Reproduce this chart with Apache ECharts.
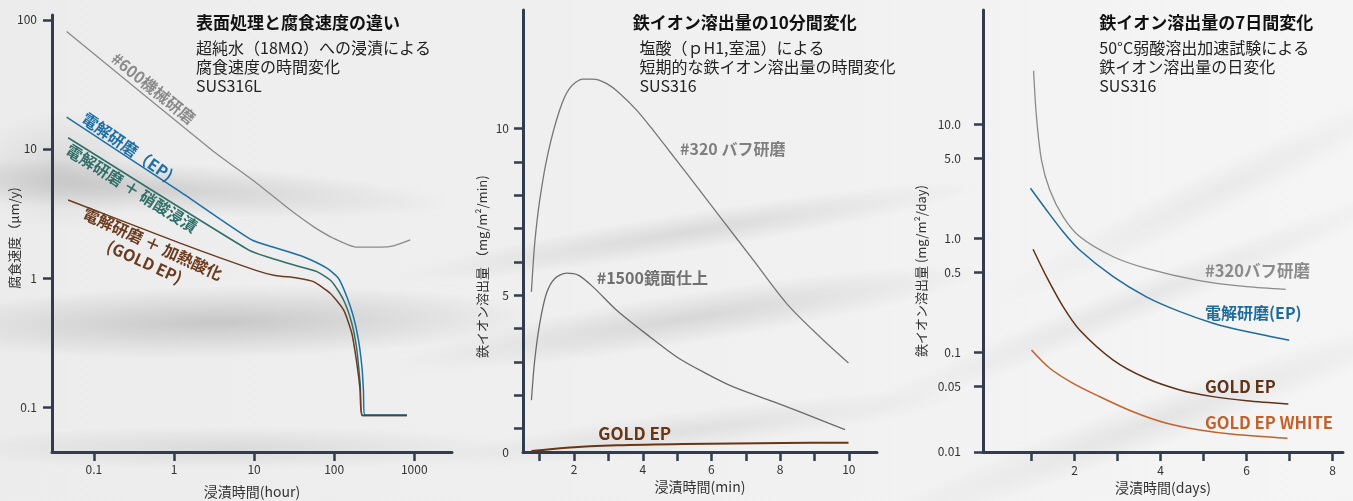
<!DOCTYPE html>
<html>
<head>
<meta charset="utf-8">
<script src="https://cdn.jsdelivr.net/npm/echarts@6/dist/echarts.min.js"></script>
<style>
  html, body { margin: 0; padding: 0; background: #efefef; }
  #chart { width: 1353px; height: 501px; }
</style>
</head>
<body>
<div id="chart"></div>
<script>
const FONT = '"Noto Sans CJK JP", "Noto Sans", sans-serif'
const AXIS = '#323c4e'

// --- panel 1: corrosion rate in ultrapure water (log / log) ---
const corrTicksX = [0.1, 1, 10, 100, 1000]
const corrTicksY = [0.1, 1, 10, 100]
const corrMech600 = [[0.0457, 81.2], [2.96, 9.82], [10.8, 5.42], [28.2, 3.37], [55.1, 2.5], [98, 2.03], [192, 1.73], [376, 1.73], [551, 1.77], [891, 1.97]]
const corrEp = [[0.0457, 17.6], [1.19, 4.67], [9.36, 1.97], [19.2, 1.7], [41.3, 1.46], [81, 1.19], [113, 0.995], [144, 0.716], [174, 0.501], [201, 0.331], [222, 0.205], [232, 0.135], [239, 0.0867], [811, 0.0867]]
const corrEpNitric = [[0.0477, 12.2], [8.49, 1.65], [14.4, 1.46], [37.6, 1.22], [60.8, 1.12], [93.6, 0.936], [131, 0.675], [166, 0.446], [192, 0.277], [211, 0.153], [228, 0.086], [811, 0.086]]
const corrGoldEp = [[0.0477, 4.02], [1.19, 1.86], [10.3, 1.15], [18.3, 1.045], [34.2, 1.0], [55.1, 0.936], [89.1, 0.761], [131, 0.565], [166, 0.373], [192, 0.218], [211, 0.135], [222, 0.086], [811, 0.086]]

// --- panel 2: iron ion release over 10 minutes ---
const minTicksX = [1, 2, 3, 4, 5, 6, 7, 8, 9, 10]
const minLabelsX = [2, 4, 6, 8, 10]
const minTicksY = [1, 2, 3, 4, 5, 6, 7, 8, 9, 10]
const minLabelsY = [0, 5, 10]
const minBuff320 = [[0.758, 5.1], [0.854, 6.55], [1.0, 7.85], [1.24, 9.25], [1.58, 10.55], [1.87, 11.2], [2.26, 11.48], [2.55, 11.48], [2.94, 11.35], [3.33, 11.05], [3.82, 10.55], [4.3, 9.95], [4.79, 9.3], [5.28, 8.65], [6.25, 7.35], [7.22, 6.05], [8.19, 4.75], [9.16, 3.75], [9.99, 2.97]]
const minMirror1500 = [[0.758, 1.85], [0.854, 3.05], [1.0, 4.15], [1.195, 5.05], [1.44, 5.5], [1.78, 5.66], [2.12, 5.6], [2.55, 5.25], [3.24, 4.55], [4.21, 3.75], [4.99, 3.15], [5.76, 2.7], [6.64, 2.25], [8.09, 1.7], [9.89, 0.97]]
const minGoldEp = [[0.758, 0.33], [1.78, 0.43], [3.24, 0.5], [5.18, 0.54], [8.09, 0.57], [9.99, 0.58]]

// --- panel 3: iron ion release over 7 days (log y) ---
const dayTicksX = [1, 2, 3, 4, 5, 6, 7, 8]
const dayLabelsX = [2, 4, 6, 8]
const dayTicksY = [10, 5, 1, 0.5, 0.1, 0.05]
const dayLabelsY = ['10.0', '5.0', '1.0', '0.5', '0.1', '0.05']
const dayBottomLabel = '0.01'
const dayBuff320 = [[1.05, 29.3], [1.116, 11.6], [1.233, 4.83], [1.426, 2.64], [1.735, 1.54], [2.12, 1.03], [2.9, 0.685], [3.67, 0.542], [4.84, 0.428], [6.0, 0.374], [6.91, 0.355]]
const dayEp = [[0.977, 2.73], [1.349, 1.76], [1.735, 1.136], [2.12, 0.785], [2.9, 0.458], [3.67, 0.305], [4.45, 0.226], [5.22, 0.179], [6.0, 0.151], [6.99, 0.127]]
const dayGoldEp = [[1.037, 0.796], [1.349, 0.458], [1.735, 0.25], [2.12, 0.156], [2.9, 0.085], [3.67, 0.0588], [4.45, 0.0465], [5.22, 0.0406], [6.0, 0.0374], [6.97, 0.035]]
const dayGoldEpWhite = [[1.0, 0.104], [1.426, 0.072], [1.967, 0.0531], [2.59, 0.0405], [3.36, 0.0299], [4.14, 0.0237], [4.91, 0.0207], [5.69, 0.019], [6.95, 0.0175]]

// axis ranges (the drawn axes start a little past the labelled ticks)
const corrRangeX = [0.03, 2960]
const corrRangeY = [0.0448, 109]
const minRangeX = [0.513, 10.82]
const minRangeY = [0.3, 13.55]
const dayRangeX = [-0.126, 8.24]
const dayRangeY = [0.01327, 100]

const chart = echarts.init(document.getElementById('chart'))

const axisLine = { show: true, onZero: false, lineStyle: { color: AXIS, width: 3 } }
const tick = (values) => ({ show: true, inside: false, length: 9, customValues: values, lineStyle: { color: AXIS, width: 2.5 } })
const label = (values, margin, formatter) => ({
  show: true, customValues: values, margin, formatter,
  color: '#333', fontSize: 12, fontFamily: FONT,
})
const xName = (text, gap) => ({
  name: text, nameLocation: 'middle', nameGap: gap,
  nameTextStyle: { color: '#333', fontSize: 14, fontFamily: FONT },
})

const txt = (x, y, text, size, color, weight, extra) => Object.assign({
  type: 'text', x, y, z: 100, silent: true,
  style: {
    text, fill: color, fontSize: size, fontFamily: FONT, fontWeight: weight || 'normal',
    textAlign: 'left', textVerticalAlign: 'middle', align: 'left', verticalAlign: 'middle',
  },
}, extra || {})
const rotTxt = (x, y, text, size, color, deg, lineHeight) => {
  const t = txt(x, y, text, size, color, 'bold', { rotation: deg * Math.PI / 180 })
  t.style.textAlign = t.style.align = 'center'
  if (lineHeight) t.style.lineHeight = lineHeight
  return t
}
const rotTxtPlain = (x, y, text) => {
  const t = txt(x, y, text, 13, '#333', 'normal', { rotation: Math.PI / 2 })
  t.style.textAlign = t.style.align = 'center'
  return t
}

// soft background folds (decoration only)
const folds = [
  [150, 188, 300, 26, -3, 0.2], [220, 322, 320, 36, 1, 0.26], [230, 448, 300, 22, 0, 0.13],
  [60, 170, 90, 60, 0, 0.14],
  [690, 232, 300, 20, 9, 0.15], [690, 318, 300, 26, 9, 0.17], [690, 430, 280, 20, 7, 0.11],
  [1140, 300, 320, 20, 22, 0.09], [1160, 420, 320, 26, 20, 0.1], [1220, 190, 260, 24, 26, 0.07],
]
const foldShapes = folds.map(([cx, cy, hl, ht, deg, a]) => ({
  type: 'circle', x: cx, y: cy, z: -100, silent: true,
  shape: { cx: 0, cy: 0, r: 1 }, scaleX: hl, scaleY: ht, rotation: deg * Math.PI / 180,
  style: {
    fill: new echarts.graphic.RadialGradient(0.5, 0.5, 0.5, [
      { offset: 0, color: `rgba(90,90,90,${a})` },
      { offset: 1, color: 'rgba(90,90,90,0)' },
    ]),
  },
}))

const lineSeries = (data, color, width, xi, smooth) => ({
  type: 'line', data, xAxisIndex: xi, yAxisIndex: xi,
  symbol: 'none', smooth: smooth,
  lineStyle: { color, width }, itemStyle: { color },
  emphasis: { disabled: true }, z: 5,
})

chart.setOption({
  animation: false,
  backgroundColor: 'transparent',
  textStyle: { fontFamily: FONT },
  grid: [
    { left: 52, top: 15, width: 400, height: 437, outerBoundsMode: 'none' },
    { left: 523, top: 10, width: 354, height: 442, outerBoundsMode: 'none' },
    { left: 983, top: 10, width: 360, height: 442, outerBoundsMode: 'none' },
  ],
  xAxis: [
    Object.assign({
      gridIndex: 0, type: 'log', logBase: 10, min: corrRangeX[0], max: corrRangeX[1],
      axisLine, axisTick: tick(corrTicksX), splitLine: { show: false },
      axisLabel: label(corrTicksX, 11, (v) => String(v)),
    }, xName('浸漬時間(hour)', 33)),
    Object.assign({
      gridIndex: 1, type: 'value', min: minRangeX[0], max: minRangeX[1],
      axisLine, axisTick: tick(minTicksX), splitLine: { show: false },
      axisLabel: label(minLabelsX, 11, (v) => String(v)),
    }, xName('浸漬時間(min)', 27)),
    Object.assign({
      gridIndex: 2, type: 'value', min: dayRangeX[0], max: dayRangeX[1],
      axisLine, axisTick: tick(dayTicksX), splitLine: { show: false },
      axisLabel: label(dayLabelsX, 12, (v) => String(v)),
    }, xName('浸漬時間(days)', 28)),
  ],
  yAxis: [
    {
      gridIndex: 0, type: 'log', logBase: 10, min: corrRangeY[0], max: corrRangeY[1],
      axisLine, axisTick: tick(corrTicksY), splitLine: { show: false },
      axisLabel: label(corrTicksY, 15, (v) => String(v)),
    },
    {
      gridIndex: 1, type: 'value', min: minRangeY[0], max: minRangeY[1],
      axisLine, axisTick: tick(minTicksY), splitLine: { show: false },
      axisLabel: label(minLabelsY.map((v) => Math.max(v, minRangeY[0] + 0.001)), 14,
        (v) => String(minLabelsY.reduce((a, b) => (Math.abs(b - v) < Math.abs(a - v) ? b : a)))),
    },
    {
      gridIndex: 2, type: 'log', logBase: 10, min: dayRangeY[0], max: dayRangeY[1],
      axisLine, axisTick: tick(dayTicksY.concat([dayRangeY[0] * 1.003])), splitLine: { show: false },
      axisLabel: label(dayTicksY.concat([dayRangeY[0] * 1.003]), 22, (v) => {
        const i = dayTicksY.findIndex((t) => Math.abs(t - v) / t < 0.01)
        return i >= 0 ? dayLabelsY[i] : dayBottomLabel
      }),
    },
  ],
  series: [
    lineSeries(corrMech600, '#8a8a8a', 1.3, 0, 0.2),
    lineSeries(corrEp, '#1d6fa5', 1.5, 0, 0.2),
    lineSeries(corrEpNitric, '#2f6f68', 1.5, 0, 0.2),
    lineSeries(corrGoldEp, '#6b3a1f', 1.5, 0, 0.2),
    lineSeries(minBuff320, '#767676', 1.3, 1, 0.3),
    lineSeries(minMirror1500, '#6a6a6a', 1.3, 1, 0.3),
    lineSeries(minGoldEp, '#6a3512', 2, 1, 0.3),
    lineSeries(dayBuff320, '#8a8a8a', 1.3, 2, 0.3),
    lineSeries(dayEp, '#1e6b9c', 1.5, 2, 0.3),
    lineSeries(dayGoldEp, '#5e3318', 1.5, 2, 0.3),
    lineSeries(dayGoldEpWhite, '#c4612b', 1.5, 2, 0.3),
  ],
  graphic: [
    {
      type: 'rect', z: -200, silent: true, shape: { x: 0, y: 0, width: 1353, height: 501 },
      style: {
        fill: new echarts.graphic.LinearGradient(0, 0, 1, 0, [
          { offset: 0, color: '#ececec' }, { offset: 0.5, color: '#f0f0f0' }, { offset: 1, color: '#f5f5f5' },
        ]),
      },
    },
    ...foldShapes,
    // titles
    txt(196, 23, '表面処理と腐食速度の違い', 17, '#111', 'bold'),
    txt(196, 47.5, '超純水（18MΩ）への浸漬による', 16, '#222'),
    txt(196, 67, '腐食速度の時間変化', 16, '#222'),
    txt(196, 86, 'SUS316L', 16, '#222'),
    txt(632.7, 23, '鉄イオン溶出量の10分間変化', 17, '#111', 'bold'),
    txt(639.5, 47.5, '塩酸（ｐH1,室温）による', 16, '#222'),
    txt(639.5, 67, '短期的な鉄イオン溶出量の時間変化', 16, '#222'),
    txt(639.5, 86, 'SUS316', 16, '#222'),
    txt(1099.3, 23, '鉄イオン溶出量の7日間変化', 17, '#111', 'bold'),
    txt(1099.3, 47.5, '50°C弱酸溶出加速試験による', 16, '#222'),
    txt(1099.3, 67, '鉄イオン溶出量の日変化', 16, '#222'),
    txt(1099.3, 86, 'SUS316', 16, '#222'),
    // y axis names
    rotTxtPlain(14, 238, '腐食速度（μm/y)'),
    rotTxtPlain(482.5, 266.7, '鉄イオン溶出量 （mg/m²/min)'),
    rotTxtPlain(921, 271, '鉄イオン溶出量 (mg/m²/day)'),
    // panel 1 series labels
    rotTxt(153.3, 88.3, '#600機械研磨', 16, '#8a8a8a', -38.9),
    rotTxt(127.5, 146.7, '電解研磨（EP)', 16, '#1d6fa5', -34.6),
    rotTxt(131.7, 188.3, '電解研磨 ＋ 硝酸浸漬', 16, '#2f6f68', -32),
    rotTxt(148.7, 252.9, '電解研磨 ＋ 加熱酸化\n(GOLD EP)', 16, '#6b3a1f', -24.5, 20),
    // panel 2 series labels
    txt(680, 149, '#320 バフ研磨', 16, '#7f7f7f', 'bold'),
    txt(596.7, 278.3, '#1500鏡面仕上', 16, '#707070', 'bold'),
    txt(598.3, 433.3, 'GOLD EP', 17, '#6a3512', 'bold'),
    // panel 3 series labels
    txt(1205, 270.7, '#320バフ研磨', 16.5, '#8a8a8a', 'bold'),
    txt(1205, 313.3, '電解研磨(EP)', 16, '#1e6b9c', 'bold'),
    txt(1205, 386.7, 'GOLD EP', 16.5, '#5e3318', 'bold'),
    txt(1205, 422.3, 'GOLD EP WHITE', 16.5, '#c4612b', 'bold'),
  ],
})
</script>
</body>
</html>
